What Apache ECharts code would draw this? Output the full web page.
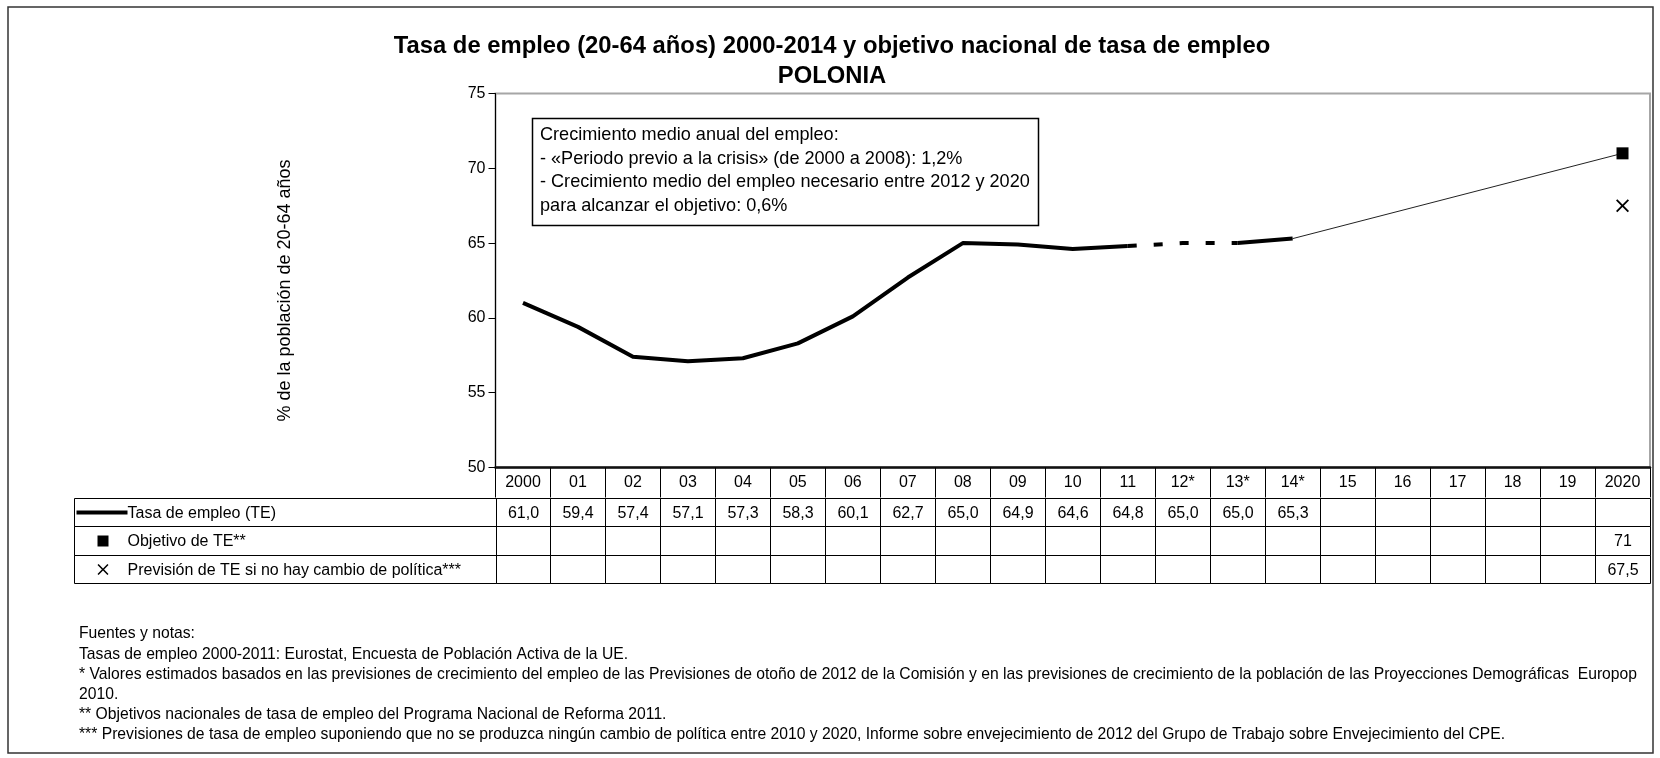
<!DOCTYPE html>
<html>
<head>
<meta charset="utf-8">
<script src="https://cdn.jsdelivr.net/npm/echarts@6/dist/echarts.min.js"></script>
<style>
html,body{margin:0;padding:0;background:#fff;}
#chart{width:1660px;height:758px;}
</style>
</head>
<body>
<div id="chart"></div>
<script>
// ---------------- DATA ----------------
const categories = ['2000','01','02','03','04','05','06','07','08','09','10','11','12*','13*','14*','15','16','17','18','19','2020'];
const tasaEmpleo = [61.0,59.4,57.4,57.1,57.3,58.3,60.1,62.7,65.0,64.9,64.6,64.8,65.0,65.0,65.3,null,null,null,null,null,null];
const objetivoTE = [null,null,null,null,null,null,null,null,null,null,null,null,null,null,null,null,null,null,null,null,71];
const prevision  = [null,null,null,null,null,null,null,null,null,null,null,null,null,null,null,null,null,null,null,null,67.5];
const yMin = 50, yMax = 75, yStep = 5;
const rowLabels = ['Tasa de empleo (TE)','Objetivo de TE**','Previsión de TE si no hay cambio de política***'];
const lastSolidIdx = 11;   // observed data end (2011)
const dashedEndIdx = 13;   // estimated segment drawn dashed
const titleText = 'Tasa de empleo (20-64 años) 2000-2014 y objetivo nacional de tasa de empleo\nPOLONIA';
const yAxisName = '% de la población de 20-64 años';
const noteLines = [
  'Crecimiento medio anual del empleo:',
  '- «Periodo previo a la crisis» (de 2000 a 2008): 1,2%',
  '- Crecimiento medio del empleo necesario entre 2012 y 2020',
  'para alcanzar el objetivo: 0,6%'
];
const footnoteHead = 'Fuentes y notas:';
const footnotes = [
  'Tasas de empleo 2000-2011: Eurostat, Encuesta de Población Activa de la UE.',
  '* Valores estimados basados en las previsiones de crecimiento del empleo de las Previsiones de otoño de 2012 de la Comisión y en las previsiones de crecimiento de la población de las Proyecciones Demográficas  Europop',
  '2010.',
  '** Objetivos nacionales de tasa de empleo del Programa Nacional de Reforma 2011.',
  '*** Previsiones de tasa de empleo suponiendo que no se produzca ningún cambio de política entre 2010 y 2020, Informe sobre envejecimiento de 2012 del Grupo de Trabajo sobre Envejecimiento del CPE.'
];

// ---------------- LAYOUT ----------------
const W = 1660, H = 758;
const FONT = '"Liberation Sans", Arial, Helvetica, sans-serif';
const gLeft = 495.5, gRight = 10, gTop = 93.5, gBottom = 467.5;
const tableLeft = 74, tableTop = 497.5, tableBottom = 583;
const colW = (W - gRight - gLeft) / categories.length;
const labelSpan = (gLeft - tableLeft) / colW;

const fmt1 = v => v.toFixed(1).replace('.', ',');
const fmtN = v => String(v).replace('.', ',');
const rowsData = [
  tasaEmpleo.map(v => v == null ? '' : fmt1(v)),
  objetivoTE.map(v => v == null ? '' : fmtN(v)),
  prevision.map(v => v == null ? '' : fmtN(v))
];
const cells = [];
for (let r = 0; r < 3; r++) {
  cells.push({c: -1, r: r, text: rowLabels[r]});
  for (let c = 0; c < categories.length; c++) cells.push({c: c, r: r, text: rowsData[r][c]});
}

const seg = (from, to) => tasaEmpleo.map((v, i) => (i >= from && i <= to) ? v : null);
const lastTEIdx = tasaEmpleo.reduce((a, v, i) => v != null ? i : a, 0);
const connector = tasaEmpleo.map((v, i) => i === lastTEIdx ? v : (objetivoTE[i] != null ? objetivoTE[i] : null));

const crossD = 'M0,1 L1,0 L5,4 L9,0 L10,1 L6,5 L10,9 L9,10 L5,6 L1,10 L0,9 L4,5 Z';
const crossPath = 'path://' + crossD;

const chart = echarts.init(document.getElementById('chart'), null, {renderer: 'canvas'});

const option = {
  backgroundColor: '#fff',
  animation: false,
  textStyle: {fontFamily: FONT, color: '#000'},
  title: {
    text: titleText,
    left: 827,
    textAlign: 'center',
    top: 27,
    textStyle: {fontFamily: FONT, fontSize: 23.8, fontWeight: 'bold', color: '#000', lineHeight: 29.5}
  },
  grid: [
    {left: gLeft, right: gRight, top: gTop, bottom: H - gBottom, show: true, borderColor: '#a6a6a6', borderWidth: 2, backgroundColor: 'transparent'},
    {left: tableLeft, right: gRight, top: tableTop, bottom: H - tableBottom, show: false}
  ],
  xAxis: [
    {
      type: 'category', gridIndex: 0, data: categories, boundaryGap: true,
      axisLine: {show: true, lineStyle: {color: '#111', width: 2.5}},
      axisTick: {show: true, interval: 0, length: tableTop - gBottom, lineStyle: {color: '#000', width: 1}},
      axisLabel: {interval: 0, margin: 7, fontSize: 16, color: '#000', fontFamily: FONT},
      splitLine: {show: false}
    },
    {type: 'value', gridIndex: 1, min: -labelSpan, max: categories.length, show: false}
  ],
  yAxis: [
    {
      type: 'value', gridIndex: 0, min: yMin, max: yMax, interval: yStep,
      name: yAxisName, nameLocation: 'middle', nameGap: 201,
      nameTextStyle: {fontFamily: FONT, fontSize: 18, color: '#000', padding: [0, 20, 0, 0]},
      axisLine: {show: true, lineStyle: {color: '#000', width: 1}},
      axisTick: {show: true, length: 7, lineStyle: {color: '#000'}},
      axisLabel: {fontSize: 16, color: '#000', margin: 10, fontFamily: FONT},
      splitLine: {show: false}
    },
    {type: 'value', gridIndex: 1, min: 0, max: 3, inverse: true, show: false}
  ],
  graphic: [
    {type: 'rect', shape: {x: 8, y: 7, width: 1645, height: 746}, style: {fill: 'none', stroke: '#333', lineWidth: 1.5}, z: 0},
    {type: 'rect', shape: {x: 532.5, y: 118.5, width: 506, height: 107}, style: {fill: '#fff', stroke: '#000', lineWidth: 1.5}, z: 10},
    {type: 'text', x: 540, y: 123.5, style: {text: noteLines.join('\n'), font: '18.1px ' + FONT, fill: '#000', lineHeight: 23.5}, z: 11},
    {type: 'text', x: 79, y: 626, style: {text: footnoteHead, font: '15.7px ' + FONT, fill: '#000'}, z: 11},
    {type: 'text', x: 79, y: 645, style: {text: footnotes.join('\n'), font: '15.7px ' + FONT, fill: '#000', lineHeight: 20}, z: 11}
  ],
  series: [
    {type: 'line', xAxisIndex: 0, yAxisIndex: 0, data: seg(0, lastSolidIdx), symbol: 'none', lineStyle: {color: '#000', width: 4, cap: 'butt', join: 'round'}, z: 5},
    {type: 'line', xAxisIndex: 0, yAxisIndex: 0, data: seg(lastSolidIdx, dashedEndIdx), symbol: 'none', lineStyle: {color: '#000', width: 4, type: [9, 17], cap: 'butt'}, z: 5},
    {type: 'line', xAxisIndex: 0, yAxisIndex: 0, data: seg(dashedEndIdx, lastTEIdx), symbol: 'none', lineStyle: {color: '#000', width: 4, cap: 'butt'}, z: 5},
    {type: 'line', xAxisIndex: 0, yAxisIndex: 0, data: connector, connectNulls: true, symbol: 'none', lineStyle: {color: '#222', width: 1}, z: 4},
    {type: 'scatter', xAxisIndex: 0, yAxisIndex: 0, data: objetivoTE, symbol: 'rect', symbolSize: 12, itemStyle: {color: '#000', opacity: 1}, z: 6},
    {type: 'scatter', xAxisIndex: 0, yAxisIndex: 0, data: prevision, symbol: crossPath, symbolSize: 13, itemStyle: {color: '#000', opacity: 1}, z: 6},
    {
      type: 'custom', xAxisIndex: 1, yAxisIndex: 1, z: 3,
      data: cells.map(d => [d.c, d.r]),
      renderItem: function (params, api) {
        const cell = cells[params.dataIndex];
        const c = api.value(0), r = api.value(1);
        const xs = c < 0 ? -labelSpan : c;
        const xe = c < 0 ? 0 : c + 1;
        const p0 = api.coord([xs, r]);
        const p1 = api.coord([xe, r + 1]);
        const x0 = Math.round(p0[0]) + 0.5, y0 = Math.round(p0[1]) + 0.5;
        const x1 = Math.round(p1[0]) + 0.5, y1 = Math.round(p1[1]) + 0.5;
        const cy = (y0 + y1) / 2;
        const children = [{
          type: 'rect', shape: {x: x0, y: y0, width: x1 - x0, height: y1 - y0},
          style: {fill: 'none', stroke: '#000', lineWidth: 1}
        }];
        if (c < 0) {
          const tx = x0 + 53;
          children.push({type: 'text', style: {text: cell.text, x: tx, y: cy + 1, font: '16px ' + FONT, fill: '#000', textAlign: 'left', textVerticalAlign: 'middle'}});
          if (r === 0) {
            children.push({type: 'line', shape: {x1: x0 + 2, y1: cy, x2: tx, y2: cy}, style: {stroke: '#000', lineWidth: 4}});
          } else if (r === 1) {
            children.push({type: 'rect', shape: {x: x0 + 23, y: cy - 5.5, width: 11, height: 11}, style: {fill: '#000'}});
          } else {
            children.push({type: 'path', shape: {pathData: crossD, x: x0 + 23, y: cy - 5.5, width: 11, height: 11}, style: {fill: '#000'}});
          }
        } else if (cell.text) {
          children.push({type: 'text', style: {text: cell.text, x: (x0 + x1) / 2, y: cy + 1, font: '16px ' + FONT, fill: '#000', textAlign: 'center', textVerticalAlign: 'middle'}});
        }
        return {type: 'group', children: children};
      }
    }
  ]
};
chart.setOption(option);
</script>
</body>
</html>
